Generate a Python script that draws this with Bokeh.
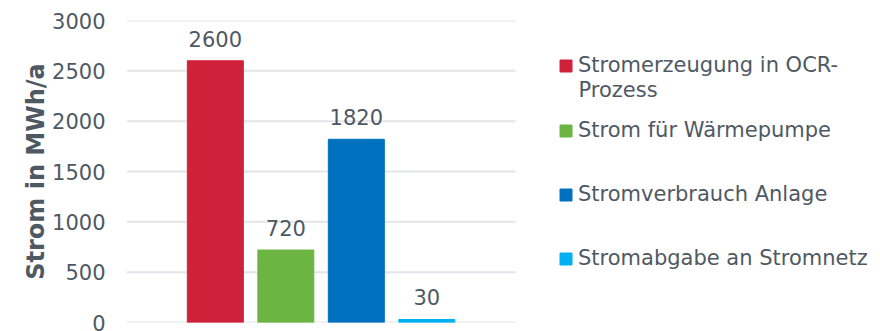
from bokeh.plotting import figure
from bokeh.models import (ColumnDataSource, Range1d, LabelSet, Label, Legend,
                          LegendItem, FixedTicker)
from bokeh.core.properties import value
from bokeh.embed import file_html
from bokeh.resources import INLINE

# Strombilanz der Anlage (MWh/a)
series = ["Stromerzeugung in OCR-", "Strom für Wärmepumpe",
          "Stromverbrauch Anlage", "Stromabgabe an Stromnetz"]
series_cont = "Prozess"          # second line of the first legend entry
values = [2600, 720, 1820, 30]
colors = ["#CF223A", "#6DB543", "#0070C0", "#00B0F0"]
y_ticks = [0, 500, 1000, 1500, 2000, 2500, 3000]

FONT = "DejaVu Sans"
TEXT = "#4F5963"
GRID = "#E2E5E9"
FS = "21px"

# plot area spans x = -1.26 .. 4.26; the frame continues to the right
# to host the legend
X0, X1 = -1.26, 4.26
PX_PER_X = 70.5
FRAME_W = 880 - 126

positions = list(range(len(values)))
source = ColumnDataSource(data=dict(
    x=positions, value=values, color=colors,
    label=[str(v) for v in values],
))

p = figure(width=880, height=331, output_backend="svg", toolbar_location=None,
           x_range=Range1d(X0, X0 + FRAME_W / PX_PER_X), y_range=Range1d(0, 3000),
           min_border_left=126, min_border_right=0,
           min_border_top=20, min_border_bottom=9)
p.outline_line_color = None
p.background_fill_color = "white"
p.border_fill_color = "white"

# horizontal gridlines limited to the plot area
p.segment(x0=[X0] * len(y_ticks), x1=[X1] * len(y_ticks), y0=y_ticks, y1=y_ticks,
          line_color=GRID, line_width=2)

bars = p.vbar(x="x", top="value", width=0.794, color="color", source=source)

labels = LabelSet(x="x", y="value", text="label", source=source,
                  text_align="center", text_baseline="alphabetic", y_offset=14,
                  text_font=value(FONT), text_font_size=value(FS),
                  text_color=value(TEXT))
p.add_layout(labels)

p.xaxis.visible = False
p.xgrid.visible = False
p.ygrid.visible = False
p.yaxis.ticker = FixedTicker(ticks=y_ticks)
p.yaxis.axis_line_color = None
p.yaxis.major_tick_line_color = None
p.yaxis.minor_tick_line_color = None
p.yaxis.major_label_standoff = 15
p.yaxis.major_label_text_font = FONT
p.yaxis.major_label_text_font_size = FS
p.yaxis.major_label_text_color = TEXT
p.yaxis.major_label_text_line_height = 1.0
p.yaxis.axis_label = "Strom in MWh/a"
p.yaxis.axis_label_text_font = FONT
p.yaxis.axis_label_text_font_style = "bold"
p.yaxis.axis_label_text_font_size = "24px"
p.yaxis.axis_label_text_color = TEXT
p.yaxis.axis_label_standoff = -1

# legend entries at a fixed 64 px pitch (offsets from the frame's bottom-left)
legend_x = 432
legend_y = [245, 180, 116, 52]
for i, (name, ly) in enumerate(zip(series, legend_y)):
    item = LegendItem(label=name, renderers=[bars], index=i)
    leg = Legend(items=[item], location=(legend_x, ly),
                 border_line_color=None, background_fill_alpha=0,
                 padding=0, margin=0, spacing=0, label_height=24,
                 glyph_width=15, glyph_height=15, label_standoff=5,
                 label_text_font=FONT, label_text_font_size=FS,
                 label_text_color=TEXT)
    p.add_layout(leg)

p.add_layout(Label(x=X0 + (578 - 126) / PX_PER_X, y=(322 - 89) * 3000 / 302,
                   text=series_cont, text_baseline="middle",
                   text_font=FONT, text_font_size=FS, text_color=TEXT))

open("out.html", "w").write(file_html(p, INLINE))
